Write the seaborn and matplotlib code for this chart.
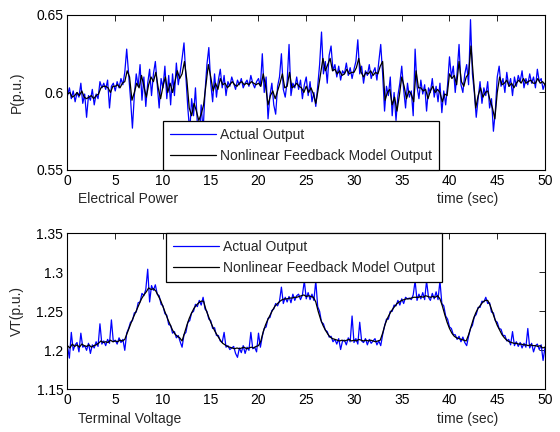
import numpy as np
import pandas as pd
import matplotlib
matplotlib.use("Agg")
import matplotlib.pyplot as plt
import seaborn as sns

# ---------------- data ----------------
dt_actual = 0.2
dt_model = 0.25

p_actual = [
    0.598, 0.603, 0.596, 0.601, 0.594,
    0.600, 0.597, 0.606, 0.593, 0.599,
    0.584, 0.598, 0.595, 0.602, 0.592,
    0.599, 0.596, 0.607, 0.603, 0.606,
    0.602, 0.608, 0.590, 0.604, 0.606,
    0.601, 0.607, 0.603, 0.609, 0.605,
    0.613, 0.628, 0.612, 0.596, 0.577,
    0.598, 0.612, 0.604, 0.618, 0.595,
    0.610, 0.591, 0.606, 0.615, 0.598,
    0.612, 0.620, 0.605, 0.590, 0.609,
    0.603, 0.617, 0.596, 0.611, 0.592,
    0.612, 0.598, 0.619, 0.605, 0.613,
    0.622, 0.632, 0.610, 0.590, 0.575,
    0.596, 0.585, 0.603, 0.580, 0.570,
    0.592, 0.575, 0.600, 0.618, 0.629,
    0.606, 0.594, 0.612, 0.597, 0.608,
    0.615, 0.603, 0.611, 0.598, 0.607,
    0.604, 0.610, 0.606, 0.602, 0.608,
    0.605, 0.609, 0.603, 0.606, 0.608,
    0.604, 0.611, 0.606, 0.603, 0.607,
    0.609, 0.604, 0.625, 0.600, 0.610,
    0.583, 0.598, 0.606, 0.592, 0.586,
    0.604, 0.610, 0.625, 0.602, 0.597,
    0.607, 0.631, 0.598, 0.606, 0.603,
    0.610, 0.602, 0.608, 0.596, 0.605,
    0.610, 0.598, 0.607, 0.594, 0.600,
    0.591, 0.604, 0.618, 0.639, 0.612,
    0.620, 0.606, 0.624, 0.630, 0.614,
    0.618, 0.610, 0.617, 0.608, 0.614,
    0.612, 0.619, 0.611, 0.616, 0.609,
    0.615, 0.620, 0.634, 0.612, 0.617,
    0.606, 0.614, 0.611, 0.618, 0.609,
    0.613, 0.616, 0.608, 0.620, 0.631,
    0.612, 0.588, 0.604, 0.598, 0.610,
    0.585, 0.600, 0.582, 0.598, 0.606,
    0.617, 0.602, 0.590, 0.606, 0.597,
    0.601, 0.585, 0.628, 0.604, 0.596,
    0.608, 0.599, 0.605, 0.588, 0.603,
    0.600, 0.609, 0.597, 0.604, 0.594,
    0.606, 0.587, 0.601, 0.592, 0.605,
    0.623, 0.610, 0.617, 0.600, 0.613,
    0.631, 0.605, 0.600, 0.612, 0.618,
    0.605, 0.647, 0.612, 0.600, 0.584,
    0.596, 0.607, 0.593, 0.603, 0.598,
    0.607, 0.590, 0.596, 0.575, 0.588,
    0.610, 0.617, 0.604, 0.609, 0.600,
    0.613, 0.604, 0.609, 0.598, 0.610,
    0.604, 0.611, 0.607, 0.614, 0.603,
    0.609, 0.605, 0.612, 0.606, 0.610,
    0.603, 0.615, 0.607, 0.609, 0.602,
    0.606,
]

p_model = [
    0.599, 0.600, 0.597, 0.598,
    0.600, 0.598, 0.601, 0.597,
    0.596, 0.597, 0.598, 0.596,
    0.598, 0.599, 0.603, 0.604,
    0.604, 0.603, 0.600, 0.604,
    0.604, 0.605, 0.603, 0.606,
    0.607, 0.614, 0.610, 0.595,
    0.600, 0.606, 0.603, 0.611,
    0.604, 0.597, 0.605, 0.610,
    0.607, 0.613, 0.603, 0.596,
    0.604, 0.610, 0.600, 0.606,
    0.600, 0.607, 0.614, 0.609,
    0.612, 0.620, 0.608, 0.590,
    0.585, 0.593, 0.588, 0.582,
    0.586, 0.592, 0.605, 0.618,
    0.610, 0.601, 0.606, 0.602,
    0.609, 0.605, 0.606, 0.603,
    0.605, 0.607, 0.605, 0.604,
    0.606, 0.607, 0.605, 0.606,
    0.605, 0.607, 0.606, 0.605,
    0.606, 0.604, 0.612, 0.604,
    0.592, 0.598, 0.601, 0.596,
    0.601, 0.606, 0.612, 0.603,
    0.604, 0.613, 0.603, 0.604,
    0.606, 0.604, 0.603, 0.600,
    0.604, 0.600, 0.603, 0.599,
    0.593, 0.602, 0.612, 0.622,
    0.614, 0.618, 0.622, 0.614,
    0.615, 0.612, 0.614, 0.611,
    0.612, 0.615, 0.612, 0.613,
    0.613, 0.616, 0.622, 0.613,
    0.610, 0.613, 0.612, 0.614,
    0.611, 0.613, 0.612, 0.617,
    0.620, 0.595, 0.600, 0.602,
    0.592, 0.597, 0.588, 0.598,
    0.610, 0.604, 0.596, 0.601,
    0.599, 0.594, 0.614, 0.603,
    0.603, 0.601, 0.602, 0.596,
    0.601, 0.604, 0.600, 0.602,
    0.600, 0.594, 0.599, 0.598,
    0.612, 0.609, 0.611, 0.605,
    0.620, 0.607, 0.604, 0.610,
    0.612, 0.630, 0.610, 0.590,
    0.598, 0.603, 0.597, 0.600,
    0.601, 0.595, 0.590, 0.583,
    0.600, 0.610, 0.605, 0.606,
    0.608, 0.604, 0.606, 0.603,
    0.606, 0.608, 0.606, 0.609,
    0.606, 0.607, 0.608, 0.606,
    0.606, 0.609, 0.606, 0.607,
    0.605,
]

vt_actual = [
    1.205, 1.190, 1.223, 1.200, 1.207,
    1.210, 1.198, 1.222, 1.204, 1.206,
    1.200, 1.209, 1.196, 1.207, 1.203,
    1.211, 1.205, 1.234, 1.208, 1.212,
    1.206, 1.214, 1.209, 1.239, 1.211,
    1.213, 1.208, 1.216, 1.210, 1.214,
    1.200, 1.222, 1.228, 1.236, 1.238,
    1.248, 1.249, 1.261, 1.262, 1.273,
    1.270, 1.278, 1.304, 1.262, 1.283,
    1.277, 1.284, 1.272, 1.270, 1.259,
    1.257, 1.247, 1.245, 1.233, 1.232,
    1.222, 1.224, 1.216, 1.219, 1.211,
    1.204, 1.220, 1.223, 1.236, 1.238,
    1.248, 1.250, 1.259, 1.256, 1.264,
    1.258, 1.268, 1.253, 1.250, 1.240,
    1.238, 1.228, 1.229, 1.219, 1.219,
    1.212, 1.210, 1.223, 1.204, 1.206,
    1.201, 1.203, 1.205, 1.196, 1.191,
    1.203, 1.197, 1.206, 1.196, 1.204,
    1.200, 1.223, 1.202, 1.204, 1.198,
    1.222, 1.204, 1.218, 1.228, 1.230,
    1.241, 1.242, 1.251, 1.253, 1.260,
    1.257, 1.263, 1.281, 1.260, 1.268,
    1.262, 1.269, 1.261, 1.272, 1.264,
    1.270, 1.272, 1.265, 1.271, 1.289,
    1.266, 1.274, 1.265, 1.272, 1.264,
    1.289, 1.256, 1.250, 1.236, 1.234,
    1.226, 1.224, 1.217, 1.218, 1.211,
    1.214, 1.208, 1.215, 1.201, 1.212,
    1.213, 1.207, 1.216, 1.211, 1.244,
    1.210, 1.215, 1.208, 1.236, 1.212,
    1.210, 1.215, 1.207, 1.214, 1.209,
    1.212, 1.215, 1.207, 1.212, 1.206,
    1.220, 1.231, 1.240, 1.240, 1.250,
    1.250, 1.258, 1.257, 1.264, 1.258,
    1.266, 1.260, 1.268, 1.266, 1.267,
    1.265, 1.271, 1.289, 1.264, 1.272,
    1.266, 1.274, 1.265, 1.289, 1.268,
    1.264, 1.273, 1.266, 1.275, 1.265,
    1.289, 1.260, 1.257, 1.244, 1.240,
    1.230, 1.228, 1.220, 1.220, 1.214,
    1.218, 1.211, 1.217, 1.210, 1.206,
    1.218, 1.228, 1.232, 1.243, 1.246,
    1.255, 1.255, 1.263, 1.262, 1.268,
    1.260, 1.261, 1.249, 1.248, 1.238,
    1.236, 1.228, 1.227, 1.219, 1.219,
    1.212, 1.214, 1.207, 1.224, 1.206,
    1.211, 1.205, 1.210, 1.203, 1.209,
    1.204, 1.228, 1.203, 1.209, 1.198,
    1.206, 1.208, 1.201, 1.207, 1.187,
    1.204,
]

vt_model = [
    1.206, 1.203, 1.208, 1.205,
    1.207, 1.204, 1.208, 1.206,
    1.205, 1.207, 1.204, 1.206,
    1.207, 1.209, 1.212, 1.210,
    1.211, 1.210, 1.213, 1.211,
    1.212, 1.211, 1.213, 1.212,
    1.214, 1.222, 1.230, 1.238,
    1.245, 1.252, 1.259, 1.266,
    1.271, 1.275, 1.280, 1.278,
    1.279, 1.276, 1.270, 1.264,
    1.256, 1.248, 1.240, 1.233,
    1.226, 1.221, 1.218, 1.216,
    1.212, 1.222, 1.232, 1.241,
    1.248, 1.254, 1.258, 1.261,
    1.263, 1.263, 1.252, 1.244,
    1.236, 1.229, 1.223, 1.218,
    1.213, 1.209, 1.207, 1.205,
    1.204, 1.203, 1.202, 1.203,
    1.202, 1.203, 1.204, 1.202,
    1.203, 1.204, 1.203, 1.205,
    1.206, 1.212, 1.224, 1.233,
    1.240, 1.246, 1.252, 1.257,
    1.260, 1.263, 1.265, 1.266,
    1.266, 1.267, 1.267, 1.268,
    1.268, 1.269, 1.270, 1.271,
    1.269, 1.270, 1.269, 1.268,
    1.262, 1.250, 1.240, 1.232,
    1.226, 1.221, 1.217, 1.215,
    1.214, 1.213, 1.212, 1.213,
    1.212, 1.213, 1.214, 1.212,
    1.213, 1.212, 1.214, 1.213,
    1.212, 1.213, 1.212, 1.213,
    1.212, 1.211, 1.212, 1.213,
    1.222, 1.233, 1.241, 1.247,
    1.252, 1.256, 1.260, 1.262,
    1.264, 1.265, 1.266, 1.266,
    1.267, 1.268, 1.268, 1.268,
    1.269, 1.268, 1.270, 1.269,
    1.268, 1.269, 1.268, 1.270,
    1.266, 1.257, 1.246, 1.236,
    1.228, 1.222, 1.218, 1.216,
    1.215, 1.214, 1.213, 1.212,
    1.220, 1.230, 1.240, 1.248,
    1.254, 1.258, 1.262, 1.264,
    1.264, 1.258, 1.249, 1.240,
    1.232, 1.226, 1.220, 1.216,
    1.213, 1.211, 1.210, 1.209,
    1.209, 1.208, 1.208, 1.207,
    1.207, 1.206, 1.207, 1.206,
    1.206, 1.205, 1.206, 1.203,
    1.204,
]

series_names = ["Actual Output", "Nonlinear Feedback Model Output"]
x_ticks = [0, 5, 10, 15, 20, 25, 30, 35, 40, 45, 50]
p_ticks = [0.55, 0.6, 0.65]
p_tick_labels = ["0.55", "0.6", "0.65"]
vt_ticks = [1.15, 1.2, 1.25, 1.3, 1.35]
vt_tick_labels = ["1.15", "1.2", "1.25", "1.3", "1.35"]

t_act = np.arange(len(p_actual)) * dt_actual
t_mod = np.arange(len(p_model)) * dt_model

# ---------------- style ----------------
sns.set_style("white")
plt.rcParams["font.family"] = ["Liberation Sans", "DejaVu Sans"]
FS = 10
plt.rcParams["font.size"] = FS
plt.rcParams["xtick.direction"] = "in"
plt.rcParams["ytick.direction"] = "in"

fig = plt.figure(figsize=(5.6, 4.32), dpi=100)
ax1 = fig.add_axes([0.1205, 0.6065, 0.8527, 0.3588])
ax2 = fig.add_axes([0.1205, 0.0988, 0.8527, 0.3611])

def draw(ax, y_act, y_mod, yticks, yticklabels, ylim, ylabel, title,
         leg_loc, leg_anchor):
    sns.lineplot(x=t_act, y=y_act, ax=ax, color="#0000FF", linewidth=0.9,
                 label=series_names[0])
    sns.lineplot(x=t_mod, y=y_mod, ax=ax, color="black", linewidth=0.9,
                 label=series_names[1])
    ax.set_xlim(0, 50)
    ax.set_ylim(*ylim)
    ax.set_xticks(x_ticks)
    ax.set_xticklabels([str(v) for v in x_ticks])
    ax.set_yticks(yticks)
    ax.set_yticklabels(yticklabels)
    ax.tick_params(axis="both", which="both", direction="in", length=4,
                   width=0.6, top=True, right=True, labelsize=FS, pad=3,
                   colors="black")
    for s in ax.spines.values():
        s.set_visible(True)
        s.set_color("black")
        s.set_linewidth(0.8)
    ax.set_xlabel("")
    ax.set_ylabel(ylabel, fontsize=FS, labelpad=9)
    ax.text(0.022, -0.19, title, transform=ax.transAxes, fontsize=FS,
            ha="left", va="center")
    ax.text(0.837, -0.19, "time (sec)", transform=ax.transAxes, fontsize=FS,
            ha="center", va="center")
    leg = ax.legend(loc=leg_loc, bbox_to_anchor=leg_anchor,
                    borderaxespad=0, frameon=True, fancybox=False,
                    edgecolor="black", framealpha=1, fontsize=FS,
                    handlelength=3.3, handletextpad=0.3, labelspacing=0.5,
                    borderpad=0.5)
    leg.get_frame().set_linewidth(0.9)

draw(ax1, p_actual, p_model, p_ticks, p_tick_labels, (0.55, 0.65),
     "P(p.u.)", "Electrical Power", "lower left", (0.2, 0.0))
draw(ax2, vt_actual, vt_model, vt_ticks, vt_tick_labels, (1.15, 1.35),
     "VT(p.u.)", "Terminal Voltage", "upper left", (0.206, 1.0))

fig.savefig("out.png", dpi=100, facecolor="white")
